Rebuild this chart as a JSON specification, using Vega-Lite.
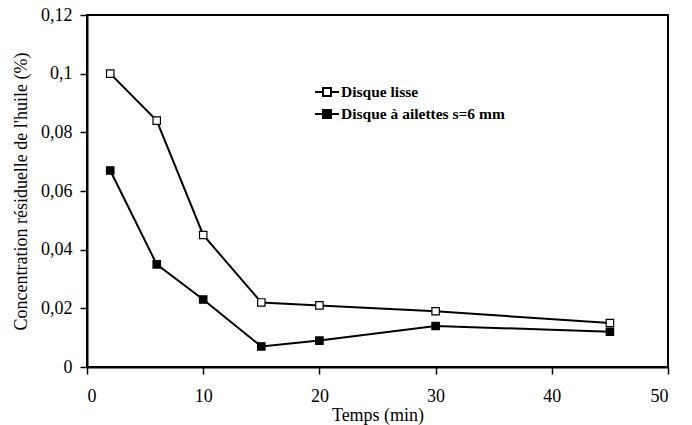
{
  "$schema": "https://vega.github.io/schema/vega-lite/v6.json",
  "autosize": "none",
  "width": 581,
  "height": 352,
  "padding": {"left": 87, "top": 15, "right": 24, "bottom": 58},
  "background": "white",
  "config": {
    "font": "Liberation Serif",
    "view": {"stroke": "black", "strokeWidth": 2},
    "axis": {"grid": false, "domainColor": "black", "domainWidth": 2, "tickColor": "black", "tickWidth": 1.5, "tickSize": 7, "labelFont": "Liberation Serif", "labelFontSize": 18, "labelColor": "black", "titleFont": "Liberation Serif", "titleFontSize": 18, "titleFontWeight": "normal", "titleColor": "black"}
  },
  "data": {"values": [
    {"t": 2, "c": 0.1, "s": "Disque lisse"},
    {"t": 6, "c": 0.084, "s": "Disque lisse"},
    {"t": 10, "c": 0.045, "s": "Disque lisse"},
    {"t": 15, "c": 0.022, "s": "Disque lisse"},
    {"t": 20, "c": 0.021, "s": "Disque lisse"},
    {"t": 30, "c": 0.019, "s": "Disque lisse"},
    {"t": 45, "c": 0.015, "s": "Disque lisse"},
    {"t": 2, "c": 0.067, "s": "Disque à ailettes s=6 mm"},
    {"t": 6, "c": 0.035, "s": "Disque à ailettes s=6 mm"},
    {"t": 10, "c": 0.023, "s": "Disque à ailettes s=6 mm"},
    {"t": 15, "c": 0.007, "s": "Disque à ailettes s=6 mm"},
    {"t": 20, "c": 0.009, "s": "Disque à ailettes s=6 mm"},
    {"t": 30, "c": 0.014, "s": "Disque à ailettes s=6 mm"},
    {"t": 45, "c": 0.012, "s": "Disque à ailettes s=6 mm"}
  ]},
  "encoding": {
    "x": {"field": "t", "type": "quantitative", "scale": {"domain": [0, 50], "nice": false}, "axis": {"values": [0, 10, 20, 30, 40, 50], "title": "Temps (min)", "labelPadding": 13, "titlePadding": 1}},
    "y": {"field": "c", "type": "quantitative", "scale": {"domain": [0, 0.12], "nice": false}, "axis": {"values": [0, 0.02, 0.04, 0.06, 0.08, 0.1, 0.12], "title": "Concentration résiduelle de l'huile (%)", "labelExpr": "replace(format(datum.value, '~g'), '.', ',')", "labelPadding": 8, "titlePadding": 10}}
  },
  "layer": [
    {"mark": {"type": "line", "color": "black", "strokeWidth": 2}, "encoding": {"detail": {"field": "s"}}},
    {"mark": {"type": "point", "shape": "square", "size": 55, "stroke": "black", "strokeWidth": 1.2, "opacity": 1},
     "encoding": {"fill": {"field": "s", "type": "nominal", "scale": {"domain": ["Disque lisse", "Disque à ailettes s=6 mm"], "range": ["white", "black"]},
       "legend": {"title": null, "orient": "none", "legendX": 230, "legendY": 67, "symbolType": "M-1.33,0H-0.44M0.44,0H1.33M-0.44,-0.44H0.44V0.44H-0.44Z", "symbolSize": 324, "symbolStrokeColor": "black", "symbolStrokeWidth": 2, "labelFont": "Liberation Serif", "labelFontSize": 15.5, "labelFontWeight": "bold", "labelColor": "black", "labelLimit": 400, "rowPadding": 3, "labelOffset": 4}}}}
  ]
}
